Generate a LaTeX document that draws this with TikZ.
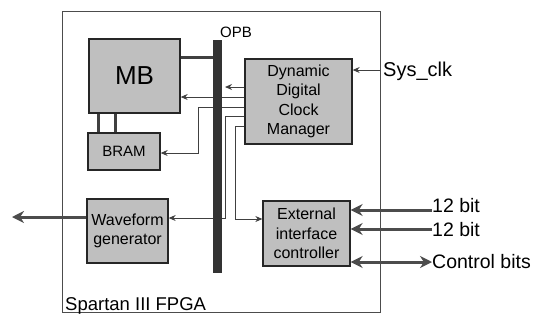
\documentclass[tikz,border=0pt]{standalone}
\usepackage{fontspec}
\setmainfont{Liberation Sans}
\usetikzlibrary{arrows.meta}
\begin{document}
\begin{tikzpicture}[x=1pt,y=-1pt,
  box/.style={draw=black!85, line width=1.3pt, fill=black!25, inner sep=0pt, align=center,
    font=\fontsize{16}{19.5}\selectfont},
  thinline/.style={draw=black!75, line width=1pt},
  thinarrow/.style={thinline, -{Stealth[length=7pt,width=6pt]}},
  thickline/.style={draw=black!75, line width=3pt},
  bigarrow/.style={draw=black!70, line width=3pt, -{Stealth[length=12pt,width=12pt]}},
  bigdouble/.style={draw=black!70, line width=3pt, {Stealth[length=12pt,width=12pt]}-{Stealth[length=12pt,width=12pt]}},
  lab/.style={inner sep=0pt, font=\fontsize{19.5}{22}\selectfont}]
\useasboundingbox (0,0) rectangle (535,322);
\fill[white] (0,0) rectangle (535,322);
% FPGA frame
\node[draw=black!70, line width=0.8pt, minimum width=318pt, minimum height=301pt, inner sep=0pt] (fpga) at (221,161.5) {};
\node[inner sep=0pt, anchor=base west, font=\fontsize{18.5}{20}\selectfont] (spartan) at (65,310) {Spartan III FPGA};
% blocks
\node[box, minimum width=91pt, minimum height=74pt, font=\fontsize{26}{28}\selectfont] (mb) at (134.5,76) {MB};
\node[box, minimum width=72pt, minimum height=37pt, font=\fontsize{15}{18}\selectfont] (bram) at (124,151.5) {BRAM};
\node[box, minimum width=107pt, minimum height=85pt] (dcm) at (298.5,101.5) {Dynamic\\Digital\\Clock\\Manager};
\node[box, minimum width=81pt, minimum height=64pt] (wg) at (127.5,231) {Waveform\\generator};
\node[box, minimum width=87pt, minimum height=65pt] (eic) at (306.5,233.5) {External\\interface\\controller};
% labels outside
\node[lab, anchor=base west, font=\fontsize{20}{22}\selectfont] (sysclk) at (383,76) {Sys\_clk};
\node[lab, anchor=base west] (b1) at (432,212) {12 bit};
\node[lab, anchor=base west] (b2) at (432,236) {12 bit};
\node[lab, anchor=base west] (cb) at (432,268) {Control bits};
\coordinate (sysin) at (380,70);
\coordinate (wgout) at (12,217);
% thin connectors from DCM
\draw[thinarrow] (dcm.west |- 0,87) -- (225,87);
\draw[thinarrow] (dcm.west |- 0,97) -- (mb.east |- 0,97);
\draw[thinarrow] (dcm.west |- 0,107) -| (198,153) -- (bram.east |- 0,153);
\draw[thinarrow] (dcm.west |- 0,116) -| (225,218) -- (wg.east |- 0,218);
\draw[thinarrow] (dcm.west |- 0,126) -| (235,219) -- (eic.west |- 0,219);
\draw[thinarrow] (sysin) -- (dcm.east |- sysin);
% thick connectors
\draw[thickline] (mb.east |- 0,57) -- (213,57);
\draw[thickline] (mb.south -| 98,0) -- (bram.north -| 98,0);
\draw[thickline] (mb.south -| 115,0) -- (bram.north -| 115,0);
\draw[bigarrow] (wg.west |- wgout) -- (wgout);
\draw[bigarrow] (b1.west |- 0,210) -- (eic.east |- 0,210);
\draw[bigarrow] (b2.west |- 0,229) -- (eic.east |- 0,229);
\draw[bigdouble] (eic.east |- 0,262) -- (cb.west |- 0,262);
% OPB bus
\node[fill=black!80, minimum width=9pt, minimum height=233pt, inner sep=0pt] (opb) at (217.5,156.5) {};
\node[inner sep=0pt, font=\fontsize{15}{18}\selectfont] (opblab) at (236,32) {OPB};
\end{tikzpicture}
\end{document}
